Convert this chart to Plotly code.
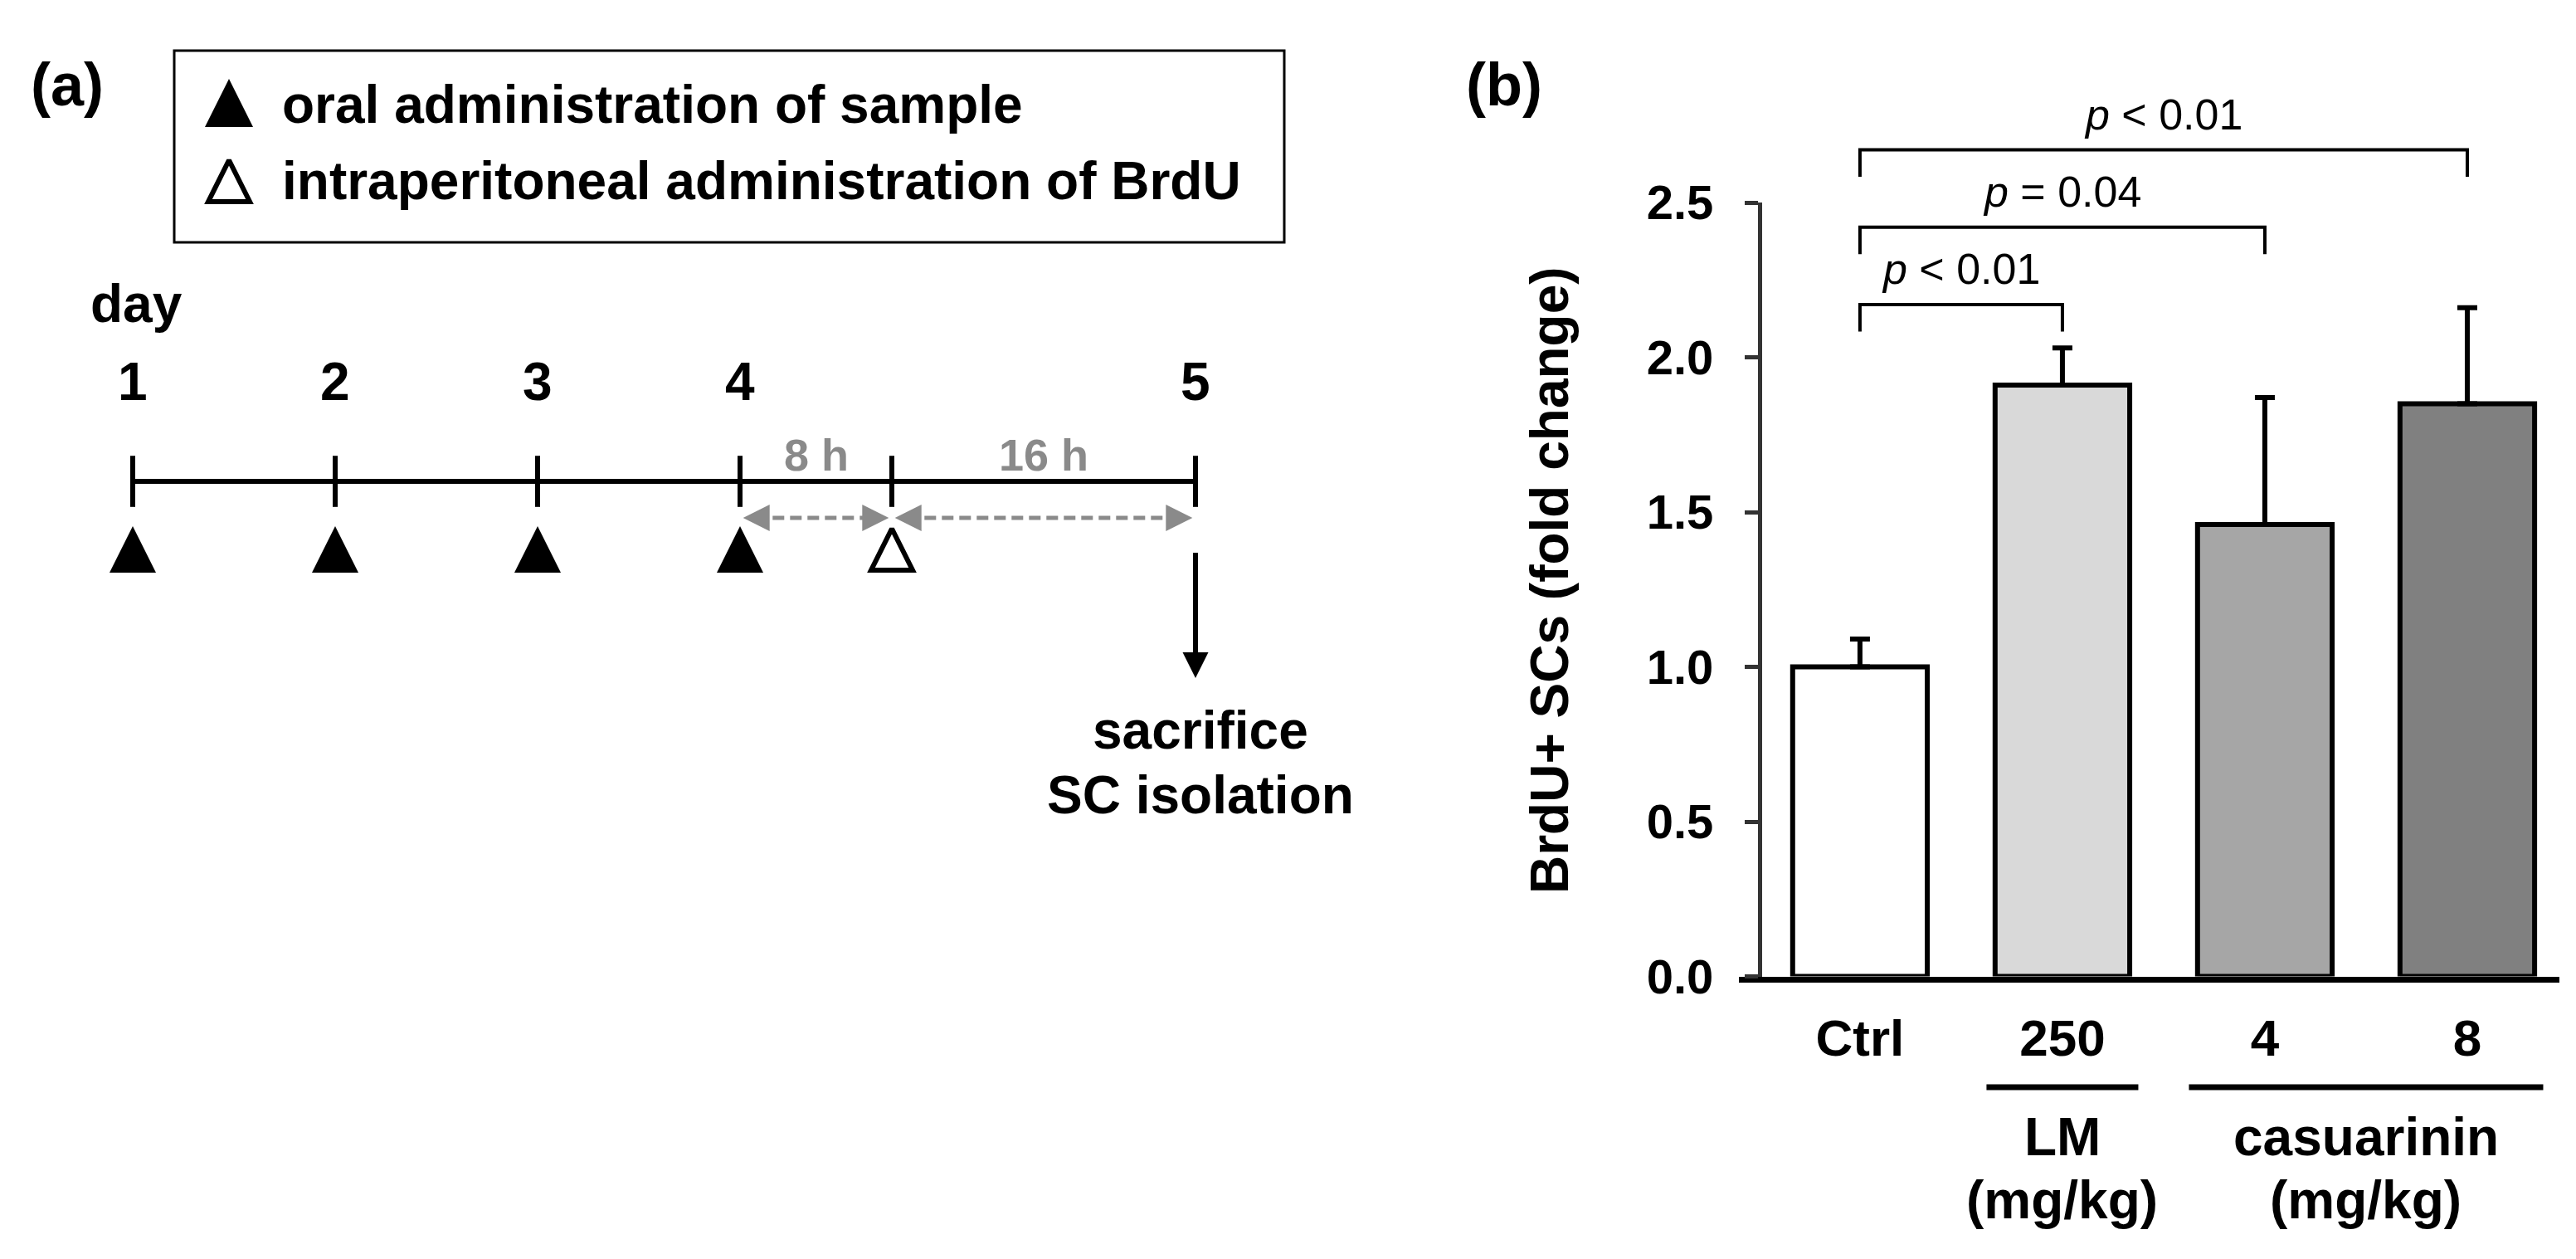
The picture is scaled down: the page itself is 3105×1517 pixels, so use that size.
import plotly.graph_objects as go

# ---------------- data ----------------
# panel (a): experimental timeline (diagram units; 1 unit = spacing of days 1-4)
timeline_ticks = [0, 1, 2, 3, 3.75, 5.25]
day_labels = ["1", "2", "3", "4", "5"]
day_positions = [0, 1, 2, 3, 5.25]
oral_positions = [0, 1, 2, 3]
brdu_positions = [3.75]
interval_starts = [3, 3.75]
interval_ends = [3.75, 5.25]
interval_labels = ["8 h", "16 h"]
sacrifice_position = 5.25
sacrifice_lines = ["sacrifice", "SC isolation"]
legend_labels = ["oral administration of sample", "intraperitoneal administration of BrdU"]

# panel (b): BrdU+ satellite cells
categories = ["Ctrl", "250", "4", "8"]
fold_change = [1.00, 1.91, 1.46, 1.85]
fold_change_err = [0.09, 0.12, 0.41, 0.31]
bar_colors = ["#ffffff", "#d9d9d9", "#a6a6a6", "#808080"]
y_ticks = [0.0, 0.5, 1.0, 1.5, 2.0, 2.5]
group_names = ["LM", "casuarinin"]
group_first = [1, 2]
group_last = [1, 3]
group_unit = "(mg/kg)"
comparison_from = [0, 0, 0]
comparison_to = [1, 2, 3]
comparison_labels = ["<i>p</i> &lt; 0.01", "<i>p</i> = 0.04", "<i>p</i> &lt; 0.01"]
bracket_heights = [2.17, 2.42, 2.67]

# ---------------- layout constants ----------------
FONT = "Liberation Sans, Arial, sans-serif"
W, H = 3105, 1517

# panel (a) coordinate system
A_UNIT = 244.0
A_OX, A_OY = 160.0, 580.0
A_DOMAIN_X = [0.0, 0.55]


def ax_u(px):
    return (px - A_OX) / A_UNIT


def ay_u(py):
    return (A_OY - py) / A_UNIT


# panel (b) geometry
B_LEFT, B_RIGHT = 2096.0, 3085.0
B_ZERO, B_TOP = 1176.5, 244.0
B_YAXIS_X = 2121.0
B_XRANGE = [-0.598, 3.455]
Y_MAX = 2.5
B_DOM_Y = [1 - B_ZERO / H, 1 - B_TOP / H]
PX_PER_VAL = (B_ZERO - B_TOP) / Y_MAX


def bv(py):
    return (B_ZERO - py) / PX_PER_VAL


GRAY = "#8a8a8a"
TRI_Y = ay_u(634)
TRI_OPEN_Y = ay_u(637)
ARROW_Y = ay_u(624)
ARROW_INSET = 0.015
DAY_Y = ay_u(460)
DAYTITLE_Y = ay_u(366)
INTERVAL_Y = ay_u(548)
DOWN_TOP = ay_u(666)
DOWN_TIP = ay_u(817)

fig = go.Figure()

# ---- panel (a) ----
fig.add_trace(go.Scatter(
    x=[timeline_ticks[0], timeline_ticks[-1]], y=[0, 0], mode="lines",
    line=dict(color="black", width=6), xaxis="x", yaxis="y", hoverinfo="skip"))
fig.add_trace(go.Scatter(
    x=timeline_ticks, y=[0] * len(timeline_ticks), mode="markers",
    marker=dict(symbol="line-ns", size=44, line=dict(color="black", width=6)),
    xaxis="x", yaxis="y", hoverinfo="skip"))

# dashed interval arrows
dx, dy = [], []
for s, e in zip(interval_starts, interval_ends):
    dx += [s + ARROW_INSET + 0.06, e - ARROW_INSET - 0.06, None]
    dy += [ARROW_Y, ARROW_Y, None]
fig.add_trace(go.Scatter(
    x=dx, y=dy, mode="lines", line=dict(color=GRAY, width=5, dash="14px,7px"),
    xaxis="x", yaxis="y", hoverinfo="skip"))
fig.add_trace(go.Scatter(
    x=[s + ARROW_INSET for s in interval_starts], y=[ARROW_Y] * len(interval_starts),
    mode="markers", marker=dict(symbol="arrow-left", size=32, color=GRAY),
    xaxis="x", yaxis="y", hoverinfo="skip"))
fig.add_trace(go.Scatter(
    x=[e - ARROW_INSET for e in interval_ends], y=[ARROW_Y] * len(interval_ends),
    mode="markers", marker=dict(symbol="arrow-right", size=32, color=GRAY),
    xaxis="x", yaxis="y", hoverinfo="skip"))

# administration triangles
fig.add_trace(go.Scatter(
    x=oral_positions, y=[TRI_Y] * len(oral_positions), mode="markers",
    marker=dict(symbol="arrow-up", size=56, color="black"),
    xaxis="x", yaxis="y", hoverinfo="skip"))
fig.add_trace(go.Scatter(
    x=brdu_positions, y=[TRI_OPEN_Y] * len(brdu_positions), mode="markers",
    marker=dict(symbol="arrow-up-open", size=50, color="black", line=dict(width=6, color="black")),
    xaxis="x", yaxis="y", hoverinfo="skip"))

# sacrifice arrow
fig.add_trace(go.Scatter(
    x=[sacrifice_position, sacrifice_position], y=[DOWN_TOP, DOWN_TIP + 0.06], mode="lines",
    line=dict(color="black", width=6), xaxis="x", yaxis="y", hoverinfo="skip"))
fig.add_trace(go.Scatter(
    x=[sacrifice_position], y=[DOWN_TIP], mode="markers",
    marker=dict(symbol="arrow-down", size=31, color="black"),
    xaxis="x", yaxis="y", hoverinfo="skip"))

# legend symbols
LEG_SYM_X = ax_u(276)
fig.add_trace(go.Scatter(
    x=[LEG_SYM_X], y=[ay_u(95)], mode="markers",
    marker=dict(symbol="arrow-up", size=58, color="black"),
    xaxis="x", yaxis="y", hoverinfo="skip"))
fig.add_trace(go.Scatter(
    x=[LEG_SYM_X], y=[ay_u(193)], mode="markers",
    marker=dict(symbol="arrow-up-open", size=50, color="black", line=dict(width=6, color="black")),
    xaxis="x", yaxis="y", hoverinfo="skip"))

# ---- panel (b) ----
fig.add_trace(go.Bar(
    x=categories, y=fold_change,
    marker=dict(color=bar_colors, line=dict(color="black", width=6)),
    width=0.665,
    error_y=dict(type="data", array=fold_change_err, arrayminus=[0] * len(fold_change_err),
                 symmetric=False, color="black", thickness=6, width=12),
    xaxis="x2", yaxis="y2", hoverinfo="skip"))

# significance brackets
BRACKET_DROP = 0.087
bx, by = [], []
for a, b, h in zip(comparison_from, comparison_to, bracket_heights):
    bx += [a, a, b, b, None]
    by += [h - BRACKET_DROP, h, h, h - BRACKET_DROP, None]
fig.add_trace(go.Scatter(
    x=bx, y=by, mode="lines", line=dict(color="black", width=4),
    xaxis="x3", yaxis="y3", hoverinfo="skip"))

# group lines under tick labels
GROUP_PAD = 0.375
GROUP_LINE_Y = bv(1310)
gx, gy = [], []
for f, l in zip(group_first, group_last):
    gx += [f - GROUP_PAD, l + GROUP_PAD, None]
    gy += [GROUP_LINE_Y, GROUP_LINE_Y, None]
fig.add_trace(go.Scatter(
    x=gx, y=gy, mode="lines", line=dict(color="black", width=7),
    xaxis="x3", yaxis="y3", hoverinfo="skip"))

# ---------------- annotations ----------------
ann = []


def bold(size, color="black"):
    return dict(family=FONT, size=size, color=color, weight="bold")


ann.append(dict(text="(a)", x=81 / W, y=1 - 102 / H, xref="paper", yref="paper",
                showarrow=False, font=bold(72), xanchor="center", yanchor="middle"))
ann.append(dict(text="(b)", x=1813 / W, y=1 - 102 / H, xref="paper", yref="paper",
                showarrow=False, font=bold(72), xanchor="center", yanchor="middle"))

for lab, py in zip(legend_labels, [126, 218]):
    ann.append(dict(text=lab, x=ax_u(338), y=ay_u(py), xref="x", yref="y", showarrow=False,
                    font=bold(64), xanchor="left", yanchor="middle"))

ann.append(dict(text="day", x=ax_u(107), y=DAYTITLE_Y, xref="x", yref="y", showarrow=False,
                font=bold(64), xanchor="left", yanchor="middle"))
for lab, pos in zip(day_labels, day_positions):
    ann.append(dict(text=lab, x=pos, y=DAY_Y, xref="x", yref="y", showarrow=False,
                    font=bold(64), xanchor="center", yanchor="middle"))
for lab, s, e in zip(interval_labels, interval_starts, interval_ends):
    ann.append(dict(text=lab, x=(s + e) / 2, y=INTERVAL_Y, xref="x", yref="y", showarrow=False,
                    font=bold(54, GRAY), xanchor="center", yanchor="middle"))
for lab, py in zip(sacrifice_lines, [880, 958]):
    ann.append(dict(text=lab, x=sacrifice_position + ax_u(1447) - ax_u(1441), y=ay_u(py),
                    xref="x", yref="y", showarrow=False, font=bold(64),
                    xanchor="center", yanchor="middle"))

ann.append(dict(text="BrdU+ SCs (fold change)", x=1868 / W, y=1 - 699 / H,
                xref="paper", yref="paper", showarrow=False, textangle=-90,
                font=bold(64), xanchor="center", yanchor="middle"))

for name, f, l in zip(group_names, group_first, group_last):
    cx = (f + l) / 2
    ann.append(dict(text=name, x=cx, y=bv(1370), xref="x3", yref="y3", showarrow=False,
                    font=bold(64), xanchor="center", yanchor="middle"))
    ann.append(dict(text=group_unit, x=cx, y=bv(1446), xref="x3", yref="y3", showarrow=False,
                    font=bold(64), xanchor="center", yanchor="middle"))

for lab, a, b, h in zip(comparison_labels, comparison_from, comparison_to, bracket_heights):
    ann.append(dict(text=lab, x=(a + b) / 2, y=h, xref="x3", yref="y3", showarrow=False,
                    font=dict(family=FONT, size=52, color="black"),
                    xanchor="center", yanchor="bottom", yshift=12))

shapes = [dict(type="rect", xref="x", yref="y", x0=ax_u(210), x1=ax_u(1548),
               y0=ay_u(292), y1=ay_u(61), line=dict(color="black", width=3),
               fillcolor="rgba(0,0,0,0)")]

fig.update_layout(
    width=W, height=H, autosize=False,
    margin=dict(l=0, r=0, t=0, b=0, pad=0, autoexpand=False),
    paper_bgcolor="white", plot_bgcolor="rgba(0,0,0,0)",
    showlegend=False,
    font=dict(family=FONT, color="black"),
    annotations=ann, shapes=shapes,
    xaxis=dict(domain=A_DOMAIN_X, range=[ax_u(0), ax_u(A_DOMAIN_X[1] * W)],
               visible=False, anchor="y", automargin=False),
    yaxis=dict(domain=[0, 1], range=[ay_u(H), ay_u(0)], visible=False, anchor="x",
               automargin=False),
    xaxis2=dict(domain=[B_LEFT / W, B_RIGHT / W], range=B_XRANGE, type="category",
                anchor="y2", showline=True, linecolor="black", linewidth=7,
                showgrid=False, zeroline=False, ticks="", automargin=False,
                tickfont=bold(62), ticklabelstandoff=14),
    yaxis2=dict(domain=B_DOM_Y, range=[0, Y_MAX], anchor="free", position=B_YAXIS_X / W,
                showline=True, linecolor="#333333", linewidth=5, automargin=False,
                ticks="outside", ticklen=16, tickwidth=5, tickcolor="#333333",
                tickvals=y_ticks, tickformat=".1f", showgrid=False, zeroline=False,
                tickfont=bold(58), ticklabelstandoff=26),
    xaxis3=dict(domain=[B_LEFT / W, B_RIGHT / W], range=B_XRANGE, anchor="y3",
                visible=False, automargin=False),
    yaxis3=dict(domain=[0, 1], range=[bv(H), bv(0)], anchor="x3", visible=False,
                automargin=False),
)

fig.write_html("out.html", config={"displayModeBar": False},
               post_script="document.body.style.margin='0px';")
